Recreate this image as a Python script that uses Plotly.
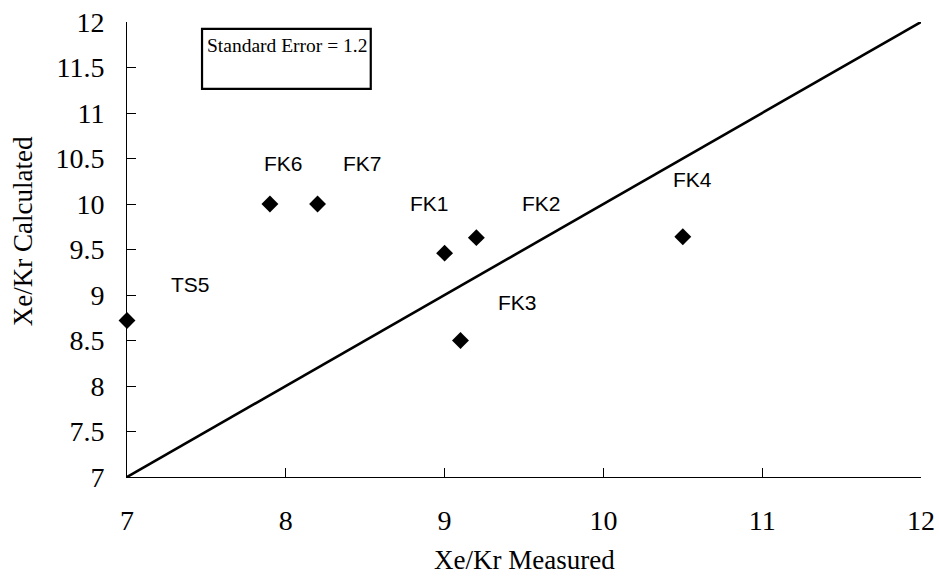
import plotly.graph_objects as go

# Sample names with measured and calculated Xe/Kr ratios
samples = ["TS5", "FK6", "FK7", "FK1", "FK2", "FK3", "FK4"]
measured = [7.0, 7.9, 8.2, 9.0, 9.2, 9.1, 10.5]
calculated = [8.72, 10.0, 10.0, 9.46, 9.63, 8.5, 9.64]

# 1:1 reference line
line_x = [7, 12]
line_y = [7, 12]

x_ticks = [7, 8, 9, 10, 11, 12]
y_ticks = [7, 7.5, 8, 8.5, 9, 9.5, 10, 10.5, 11, 11.5, 12]

standard_error = 1.2

# pixel offsets of each sample label from its marker
label_dx = [63, 14, 45, -15, 65, 57, 10]
label_dy = [36, 41, 41, 50, 34, 38, 57]

serif = "Liberation Serif, Times New Roman, serif"
sans = "Liberation Sans, Arial, sans-serif"

fig = go.Figure()
fig.add_trace(go.Scatter(
    x=line_x, y=line_y, mode="lines",
    line=dict(color="black", width=2.6),
    hoverinfo="skip", showlegend=False,
))
fig.add_trace(go.Scatter(
    x=measured, y=calculated, mode="markers",
    marker=dict(symbol="diamond", size=13, color="black"),
    text=samples, showlegend=False, cliponaxis=False,
))

for name, mx, cy, dx, dy in zip(samples, measured, calculated, label_dx, label_dy):
    fig.add_annotation(
        x=mx, y=cy, text=name, showarrow=False,
        xshift=dx, yshift=dy,
        font=dict(family=sans, size=21, color="black"),
    )

# Standard error box
fig.add_shape(
    type="rect", xref="paper", yref="paper",
    x0=0.0945, x1=0.307, y0=0.853, y1=0.985,
    line=dict(color="black", width=2.2),
)
fig.add_annotation(
    xref="paper", yref="paper", x=0.0985, y=0.976,
    xanchor="left", yanchor="top", showarrow=False,
    text=f"Standard Error = {standard_error}",
    font=dict(family=serif, size=19.5, color="black"),
)

# Axis titles
fig.add_annotation(
    xref="paper", yref="paper", x=0.5, y=-0.183,
    xanchor="center", yanchor="middle", showarrow=False,
    text="Xe/Kr Measured",
    font=dict(family=serif, size=27, color="black"),
)
fig.add_annotation(
    xref="paper", yref="paper", x=-0.131, y=0.54,
    xanchor="center", yanchor="middle", showarrow=False,
    text="Xe/Kr Calculated", textangle=-90,
    font=dict(family=serif, size=27, color="black"),
)

fig.update_xaxes(
    range=[7, 12], tickvals=x_ticks, ticktext=[str(v) for v in x_ticks],
    showgrid=False, zeroline=False, automargin=False,
    showline=True, linecolor="black", linewidth=1,
    ticks="inside", ticklen=9, tickcolor="black", tickwidth=1,
    ticklabelstandoff=18,
    tickfont=dict(family=serif, size=28, color="black"),
)
fig.update_yaxes(
    range=[7, 12], tickvals=y_ticks, ticktext=[f"{v:g}" for v in y_ticks],
    showgrid=False, zeroline=False, automargin=False,
    showline=True, linecolor="black", linewidth=1,
    ticks="inside", ticklen=9, tickcolor="black", tickwidth=1,
    ticklabelstandoff=16,
    tickfont=dict(family=serif, size=28, color="black"),
)

fig.update_layout(
    width=939, height=576,
    margin=dict(l=127, r=18, t=22, b=99),
    paper_bgcolor="white", plot_bgcolor="white",
)

fig.write_html("out.html")
